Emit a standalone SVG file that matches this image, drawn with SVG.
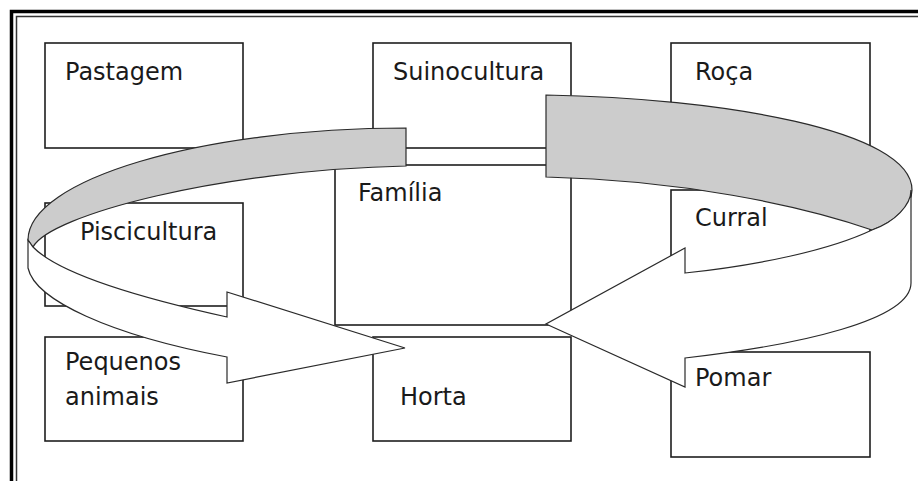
<svg xmlns="http://www.w3.org/2000/svg" width="918" height="481" viewBox="0 0 918 481">
<style>
  .box rect { fill: #ffffff; stroke: #1e1e1e; stroke-width: 1.6; }
  .box text { font-family: "DejaVu Sans", "Liberation Sans", sans-serif; font-size: 24px; fill: #1a1a1a; }
  .band { stroke: #2a2a2a; stroke-width: 1.2; stroke-linejoin: miter; }
  .back { fill: #cccccc; }
  .front { fill: #ffffff; }
</style>
<rect x="0" y="0" width="918" height="481" fill="#ffffff"/>
<g id="frame" fill="none">
  <path d="M11.5,481 V11.5 H918" stroke="#000000" stroke-width="3.5"/>
  <path d="M16.5,481 V16.5 H918" stroke="#333333" stroke-width="1.5"/>
</g>
<g id="pastagem" class="box"><rect x="45" y="43" width="198" height="105"/><text x="65" y="80">Pastagem</text></g>
<g id="suinocultura" class="box"><rect x="373" y="43" width="198" height="105"/><text x="393" y="80">Suinocultura</text></g>
<g id="roca" class="box"><rect x="671" y="43" width="199" height="105"/><text x="695" y="80">Roça</text></g>
<g id="familia" class="box"><rect x="335" y="165" width="236" height="160"/><text x="358" y="201">Família</text></g>
<g id="piscicultura" class="box"><rect x="45" y="203" width="198" height="103"/><text x="80" y="240">Piscicultura</text></g>
<g id="curral" class="box"><rect x="671" y="190" width="199" height="105"/><text x="695" y="226">Curral</text></g>
<g id="pequenos" class="box"><rect x="45" y="337" width="198" height="104"/><text x="65" y="370">Pequenos</text><text x="65" y="405">animais</text></g>
<g id="horta" class="box"><rect x="373" y="337" width="198" height="104"/><text x="400" y="405">Horta</text></g>
<g id="pomar" class="box"><rect x="671" y="352" width="199" height="105"/><text x="695" y="386">Pomar</text></g>
<g id="connectors">
  <g id="arrow-left">
    <path class="band back" d="M406,128 C200,128 28,180 28,240 L33,247 C50,215 220,170 406,166 Z"/>
    <path class="band front" d="M28,240 L28,268 C35,300 110,335 227,357 L227,383 L405,348 L227,292 L227,317 C150,300 60,275 33,247 Z"/>
  </g>
  <g id="arrow-right">
    <path class="band back" d="M546,95 C720,98 912,130 912,190 C912,205 895,222 872,230 C800,205 680,180 546,177 Z"/>
    <path class="band front" d="M872,230 C895,222 911,205 911,190 L911,283 C911,320 800,345 685,358 L685,387 L546,324 L685,248 L685,273 C760,265 830,250 872,230 Z"/>
  </g>
</g>
</svg>
